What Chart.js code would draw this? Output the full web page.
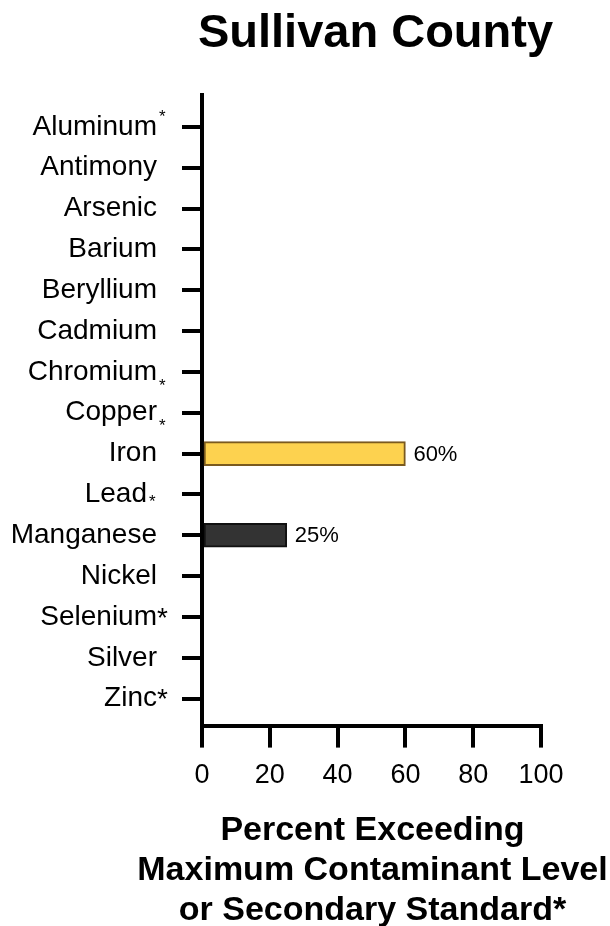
<!DOCTYPE html>
<html lang="en">
<head>
  <meta charset="UTF-8">
  <title>Sullivan County</title>
  <script src="https://cdn.jsdelivr.net/npm/chart.js@4.4.1/dist/chart.umd.min.js"></script>
  <style>
    html, body { margin: 0; padding: 0; background: #fff; }
    canvas { display: block; }
  </style>
</head>
<body>
  <canvas id="metalsChart" width="610" height="926"></canvas>
  <script>
    // values
    const metals = ['Aluminum*', 'Antimony', 'Arsenic', 'Barium', 'Beryllium', 'Cadmium', 'Chromium*', 'Copper*',
      'Iron', 'Lead*', 'Manganese', 'Nickel', 'Selenium*', 'Silver', 'Zinc*'];
    const percentExceeding = [0, 0, 0, 0, 0, 0, 0, 0, 60, 0, 25, 0, 0, 0, 0];
    const percentTicks = [0, 20, 40, 60, 80, 100];
    const chartTitle = 'Sullivan County';
    const axisTitle = ['Percent Exceeding', 'Maximum Contaminant Level', 'or Secondary Standard*'];

    const FONT = '"Liberation Sans", Arial, Helvetica, sans-serif';
    const barFill = { Iron: '#fdd24f', Manganese: '#333333' };
    const barEdge = { Iron: '#7a5a1f', Manganese: '#111111' };
    // how the asterisk sits after each name
    const starStyle = { Aluminum: 'sup', Chromium: 'sub', Copper: 'sub', Lead: 'low', Selenium: 'plain', Zinc: 'plain' };

    const nameOf = i => metals[i].replace('*', '');

    // category names drawn beside the y ticks (so the asterisks can be placed like the original)
    const metalLabels = {
      id: 'metalLabels',
      afterDraw(chart) {
        const ctx = chart.ctx;
        const yScale = chart.scales.y;
        const right = chart.chartArea.left - 45;
        ctx.save();
        ctx.fillStyle = '#000';
        ctx.textBaseline = 'middle';
        metals.forEach((label, i) => {
          const y = yScale.getPixelForValue(i);
          const name = nameOf(i);
          const star = label.endsWith('*') ? starStyle[name] : null;
          const end = star === 'low' ? right - 10 : right;
          ctx.font = '28px ' + FONT;
          ctx.textAlign = 'right';
          ctx.fillText(name, end, y);
          ctx.textAlign = 'left';
          if (star === 'plain') {
            ctx.fillText('*', right, y + 2);
          } else if (star) {
            ctx.font = '17px ' + FONT;
            const dy = star === 'sup' ? -10 : star === 'sub' ? 14 : 8;
            ctx.fillText('*', end + 2, y + dy);
          }
        });
        ctx.restore();
      }
    };

    // percent labels at the end of non-zero bars
    const valueLabels = {
      id: 'valueLabels',
      afterDatasetsDraw(chart) {
        const ctx = chart.ctx;
        ctx.save();
        ctx.fillStyle = '#000';
        ctx.font = '22px ' + FONT;
        ctx.textAlign = 'left';
        ctx.textBaseline = 'middle';
        chart.getDatasetMeta(0).data.forEach((bar, i) => {
          const v = percentExceeding[i];
          if (!v) return;
          ctx.fillText(v + '%', bar.x + 8, bar.y + 1);
        });
        ctx.restore();
      }
    };

    // chart title and x-axis title, centred on the plot area without Chart.js squeezing them to its width
    const titles = {
      id: 'titles',
      afterDraw(chart) {
        const ctx = chart.ctx;
        const area = chart.chartArea;
        const cx = (area.left + area.right) / 2;
        ctx.save();
        ctx.fillStyle = '#000';
        ctx.textAlign = 'center';
        ctx.textBaseline = 'alphabetic';
        ctx.font = 'bold 47px ' + FONT;
        ctx.fillText(chartTitle, cx + 4, area.top - 48);
        ctx.font = 'bold 34px ' + FONT;
        axisTitle.forEach((line, k) => {
          ctx.fillText(line, cx + 1, area.bottom + 114 + k * 40);
        });
        ctx.restore();
      }
    };

    const ctx = document.getElementById('metalsChart').getContext('2d');
    new Chart(ctx, {
      type: 'bar',
      data: {
        datasets: [{
          data: percentExceeding.map((v, i) => ({ x: v, y: i })),
          backgroundColor: c => barFill[nameOf(c.dataIndex)] || '#000',
          borderColor: c => barEdge[nameOf(c.dataIndex)] || '#000',
          borderWidth: 2,
          borderSkipped: false,
          barThickness: 24
        }]
      },
      options: {
        responsive: false,
        animation: false,
        devicePixelRatio: 1,
        indexAxis: 'y',
        layout: { padding: { left: 182, right: 69, top: 95, bottom: 122 } },
        plugins: {
          legend: { display: false },
          tooltip: { enabled: false },
          title: { display: false }
        },
        scales: {
          x: {
            type: 'linear',
            position: 'bottom',
            min: 0,
            max: 100,
            afterBuildTicks: s => { s.ticks = percentTicks.map(v => ({ value: v })); },
            grid: { drawOnChartArea: false, drawTicks: true, tickLength: 22, lineWidth: 4, color: '#000' },
            border: { display: true, width: 4, color: '#000' },
            ticks: { color: '#000', font: { family: FONT, size: 27 }, padding: 12, maxRotation: 0 }
          },
          y: {
            type: 'linear',
            reverse: true,
            offset: false,
            min: -0.78,
            max: 14.66,
            z: 1,
            afterBuildTicks: s => { s.ticks = metals.map((_, i) => ({ value: i })); },
            grid: { offset: false, drawOnChartArea: false, drawTicks: true, tickLength: 20, lineWidth: 4, color: '#000' },
            border: { display: true, width: 4, color: '#000' },
            ticks: { display: false }
          }
        }
      },
      plugins: [metalLabels, valueLabels, titles]
    });
  </script>
</body>
</html>
